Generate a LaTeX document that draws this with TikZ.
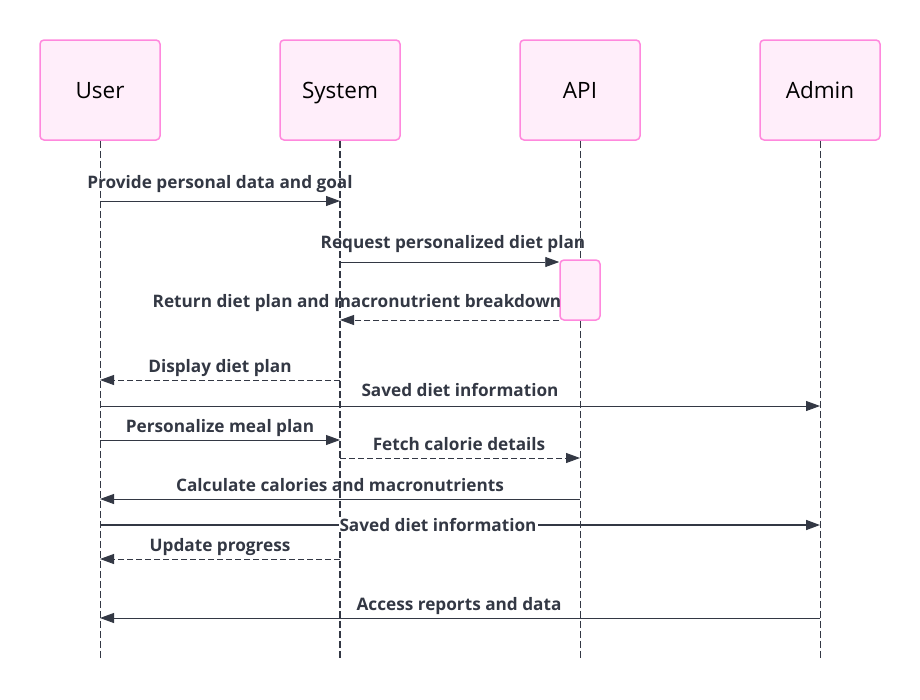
\documentclass[tikz,border=0pt]{standalone}
\usepackage{fontspec}
\setmainfont{Open Sans}
\usetikzlibrary{arrows.meta}
\definecolor{actfill}{HTML}{FFEEFA}
\definecolor{actdraw}{HTML}{FF88DD}
\definecolor{ink}{HTML}{333844}

\begin{document}
\begin{tikzpicture}[x=1pt,y=-1pt]
	\tikzstyle{actor}=[draw=actdraw,fill=actfill,line width=1.5pt,rounded corners=4pt,minimum width=120pt,minimum height=100pt,text height=16pt,text depth=0pt,font=\fontsize{22.5}{26}\selectfont]
	\tikzstyle{life}=[draw=ink,line width=0.8pt,dash pattern=on 7pt off 3pt]
	\tikzstyle{msg}=[draw=ink,line width=0.9pt,-{Triangle[length=14pt,width=10pt]}]
	\tikzstyle{reply}=[msg,dash pattern=on 6pt off 3pt]
	\tikzstyle{lbl}=[text=ink,font=\bfseries\fontsize{17.2}{20}\selectfont,anchor=base,inner sep=0pt]
	\useasboundingbox (0,0) rectangle (920,699);

	\begin{scope}
	\node[actor] (user)  at (100,90) {User};
	\node[actor] (sys)   at (340,90) {System};
	\node[actor] (api)   at (580,90) {API};
	\node[actor] (admin) at (820,90) {Admin};
	\end{scope}

	\coordinate (bottom) at (0,660);
	\foreach \a in {user,api,admin}
		\path[life] (\a.south) -- (\a |- bottom);
	\path[life,line width=1.5pt] (sys.south) -- (sys |- bottom);

	\node[draw=actdraw,fill=actfill,line width=1.5pt,rounded corners=4pt,minimum width=40pt,minimum height=60pt] (act) at (580,290) {};

	\coordinate (m1) at (0,201);
	\coordinate (m2) at (0,262);
	\coordinate (m3) at (0,320);
	\coordinate (m4) at (0,380);
	\coordinate (m5) at (0,406);
	\coordinate (m6) at (0,440);
	\coordinate (m7) at (0,458);
	\coordinate (m8) at (0,499);
	\coordinate (m9) at (0,525);
	\coordinate (m10) at (0,559);
	\coordinate (m11) at (0,618);

	\path
	(user |- m1) edge[msg] (sys |- m1)
	(sys |- m2) edge[msg] (act.west |- m2)
	(act.west |- m3) edge[reply] (sys |- m3)
	(sys |- m4) edge[reply] (user |- m4)
	(user |- m5) edge[msg] (admin |- m5)
	(user |- m6) edge[msg] (sys |- m6)
	(sys |- m7) edge[reply] (api |- m7)
	(api |- m8) edge[msg] (user |- m8)
	(user |- m9) edge[msg,line width=1.6pt] (admin |- m9)
	(sys |- m10) edge[reply] (user |- m10)
	(admin |- m11) edge[msg] (user |- m11)
	;

	\node[lbl] (l1)  at (220,188) {Provide personal data and goal};
	\node[lbl] (l2)  at (453,248) {Request personalized diet plan};
	\node[lbl] (l3)  at (357,307) {Return diet plan and macronutrient breakdown};
	\node[lbl] (l4)  at (220,372) {Display diet plan};
	\node[lbl] (l5)  at (460,396) {Saved diet information};
	\node[lbl] (l6)  at (220,432) {Personalize meal plan};
	\node[lbl] (l7)  at (459,450) {Fetch calorie details};
	\node[lbl] (l8)  at (340,491) {Calculate calories and macronutrients};
	\node[lbl,fill=white,inner sep=1pt] (l9) at (438,531) {Saved diet information};
	\node[lbl] (l10) at (220,551) {Update progress};
	\node[lbl] (l11) at (459,610) {Access reports and data};
\end{tikzpicture}
\end{document}
